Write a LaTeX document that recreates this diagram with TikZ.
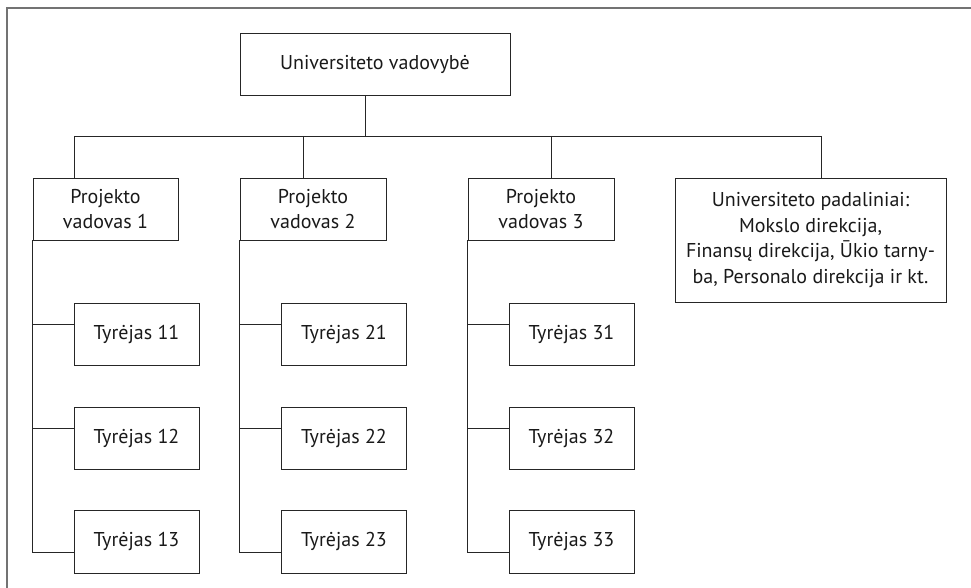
\documentclass[tikz,border=0pt]{standalone}
\usepackage{fontspec}
\setmainfont{PT Sans}
\begin{document}
\begin{tikzpicture}[x=1pt,y=-1pt,
  box/.style={draw=black!85, line width=0.9pt, rectangle, inner sep=0pt,
    font=\fontsize{20}{25.7}\selectfont, text=black!90, align=center},
  wire/.style={draw=black!85, line width=0.9pt},
  frame/.style={draw=black!55, line width=1.4pt}]
\useasboundingbox (0,0) rectangle (971,588);
% open frame: left and top edges only
\draw[frame] (7,588) -- (7,8) -- (971,8);

% top level
\node[box, minimum width=270, minimum height=62] (top) at (375,64) {Universiteto vadovybė};

% second level
\node[box, minimum width=145, minimum height=62] (pv1) at (105.5,209) {Projekto\\vadovas 1};
\node[box, minimum width=146, minimum height=62] (pv2) at (313,209) {Projekto\\vadovas 2};
\node[box, minimum width=146, minimum height=62] (pv3) at (541,209) {Projekto\\vadovas 3};
\node[box, minimum width=271, minimum height=124] (up) at (810.5,240)
  {Universiteto padaliniai:\\Mokslo direkcija,\\Finansų direkcija, Ūkio tarny-\\ba, Personalo direkcija ir kt.};

% researchers
\foreach \c/\x in {1/136.5, 2/344, 3/571.5}{
  \node[box, minimum width=125, minimum height=62] (t\c1) at (\x,334) {Tyrėjas \c1};
  \node[box, minimum width=125, minimum height=62] (t\c2) at (\x,438) {Tyrėjas \c2};
  \node[box, minimum width=125, minimum height=63] (t\c3) at (\x,541.5) {Tyrėjas \c3};
}

% bus under the top box
\coordinate (b0) at (365,136);
\coordinate (d1) at (74,136);
\coordinate (d2) at (303,136);
\coordinate (d3) at (551,136);
\coordinate (d4) at (821,136);
\draw[wire] (top.south -| b0) -- (b0);
\draw[wire] (d1) -- (d4);
\draw[wire] (d1) -- (d1 |- pv1.north);
\draw[wire] (d2) -- (d2 |- pv2.north);
\draw[wire] (d3) -- (d3 |- pv3.north);
\draw[wire] (d4) -- (d4 |- up.north);

% spines from each project leader to the researchers
\foreach \c in {1,2,3}{
  \coordinate (a\c1) at ([yshift=10pt]t\c1.west);
  \coordinate (a\c2) at ([yshift=10pt]t\c2.west);
  \coordinate (a\c3) at ([yshift=-10.5pt]t\c3.west);
  \draw[wire] (pv\c.south west) |- (a\c3);
  \draw[wire] (a\c1) -- (a\c1 -| pv\c.south west);
  \draw[wire] (a\c2) -- (a\c2 -| pv\c.south west);
}
\end{tikzpicture}
\end{document}
